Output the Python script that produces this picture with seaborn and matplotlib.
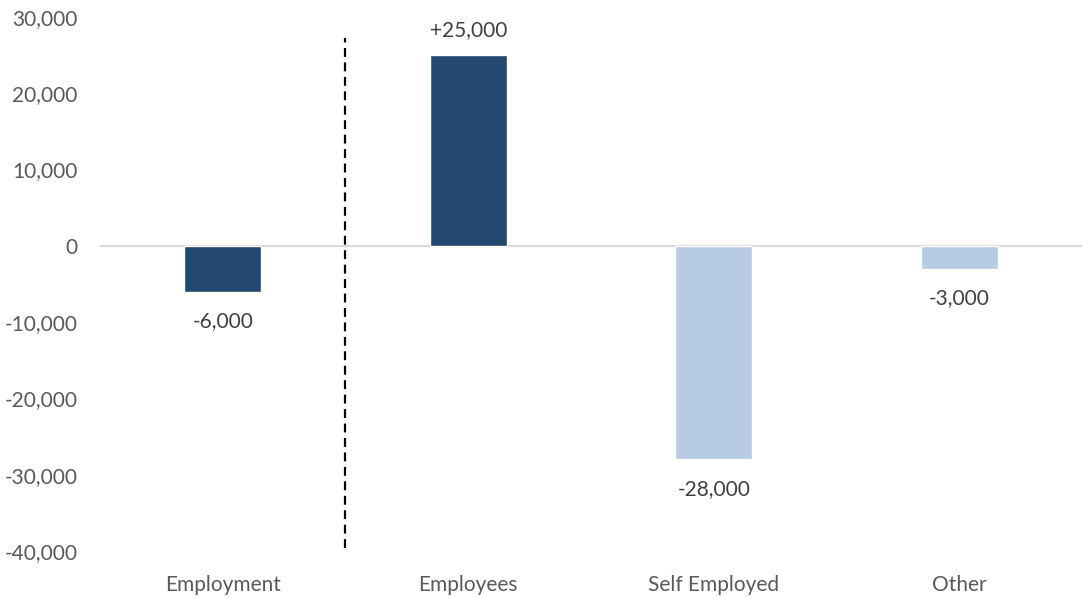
import matplotlib
matplotlib.use("Agg")
import matplotlib.pyplot as plt
import seaborn as sns
import pandas as pd
from matplotlib.ticker import FuncFormatter

categories = ["Employment", "Employees", "Self Employed", "Other"]
values = [-6000, 25000, -28000, -3000]
labels = ["-6,000", "+25,000", "-28,000", "-3,000"]
groups = ["total", "total", "part", "part"]

sns.set_style("white")
plt.rcParams["font.family"] = ["Lato", "DejaVu Sans"]

df = pd.DataFrame({"cat": categories, "val": values, "grp": groups})

fig = plt.figure(figsize=(10.82, 5.98), dpi=100)
ax = fig.add_axes([0.0924, 0.0786, 0.9076, 0.893])

sns.barplot(data=df, x="cat", y="val", hue="grp", dodge=False,
            palette={"total": "#234872", "part": "#B7CCE4"},
            width=0.314, legend=False, ax=ax, saturation=1)

ax.set_ylim(-40000, 30000)
ax.set_xlim(-0.5, 3.5)
ax.set_yticks(range(-40000, 30001, 10000))
ax.yaxis.set_major_formatter(FuncFormatter(lambda v, p: f"{int(v):,}"))
ax.axhline(0, color="#d9d9d9", lw=1.5, zorder=0)
ax.vlines(0.5, -39600, 27250, colors="black", linestyles=(0, (4, 2.5)), lw=1.6)

# value labels
for i, (v, t) in enumerate(zip(values, labels)):
    off = 18 if v > 0 else -21
    ax.annotate(t, (i, v), xytext=(0, off), textcoords="offset points",
                ha="center", va="center", fontsize=15, color="#404040")

ax.set_xlabel("")
ax.set_ylabel("")
for s in ax.spines.values():
    s.set_visible(False)
ax.tick_params(axis="both", length=0, labelsize=15, colors="#595959")
ax.tick_params(axis="x", pad=17.5)
ax.tick_params(axis="y", pad=16)

fig.savefig("out.png", dpi=100)
